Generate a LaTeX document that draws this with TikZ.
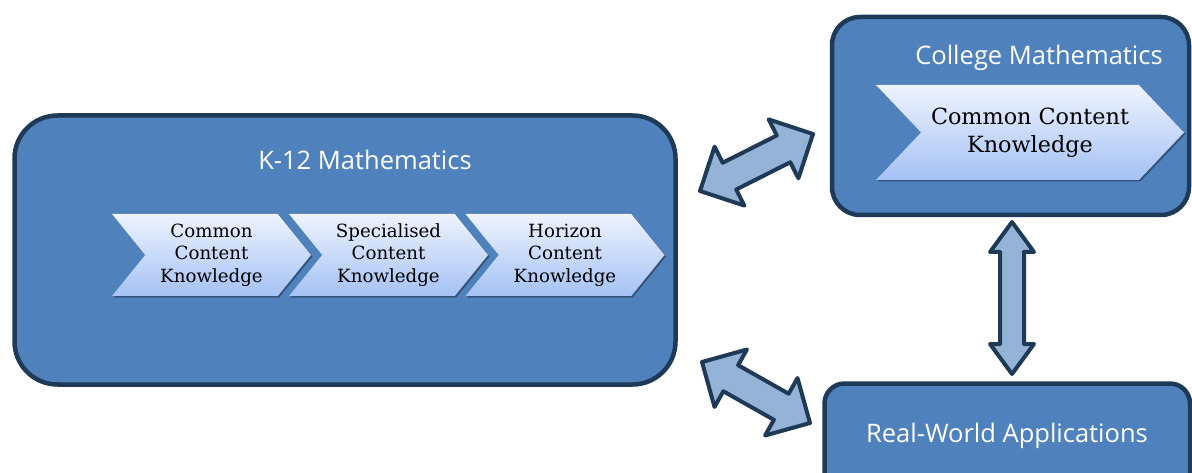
\documentclass[tikz,border=0pt]{standalone}
\usepackage{fontspec}
\usetikzlibrary{calc,shapes.symbols,shadows}
\newfontfamily\titlefont{Open Sans}
\newfontfamily\chevfont{DejaVu Serif}
\definecolor{boxblue}{HTML}{4F81BD}
\definecolor{navy}{HTML}{1F3A57}
\definecolor{arrowblue}{HTML}{95B3D7}
\definecolor{chevtop}{HTML}{EEF3FE}
\definecolor{chevbot}{HTML}{A4C2F4}

\tikzset{
  areabox/.style={draw=navy, fill=boxblue, line width=4.5pt, rounded corners=#1, inner sep=0pt},
  boxtitle/.style={text=white, font=\titlefont\fontsize{25.5}{30}\selectfont, inner sep=0pt},
  chevron/.style={shape=signal, signal from=west, signal to=east, top color=chevtop,
    bottom color=chevbot, inner sep=0pt, align=center, text=black,
    drop shadow={shadow xshift=1.5pt, shadow yshift=-1.5pt, opacity=0.35, fill=black}},
  smallchev/.style={chevron, minimum width=199pt, minimum height=82pt, signal pointer angle=102,
    font=\chevfont\fontsize{18.2}{22.5}\selectfont},
  blockarrow/.style={draw=navy, fill=arrowblue, line width=4pt, line join=round}
}

% double-headed block arrow: from, to, shaft half width, head half width, head length
\newcommand\dblblockarrow[5]{%
  \draw[blockarrow] (#1)
    -- ($(#1)!#5!(#2)!#4!90:(#2)$)
    -- ($(#1)!#5!(#2)!#3!90:(#2)$)
    -- ($(#2)!#5!(#1)!#3!-90:(#1)$)
    -- ($(#2)!#5!(#1)!#4!-90:(#1)$)
    -- (#2)
    -- ($(#2)!#5!(#1)!#4!90:(#1)$)
    -- ($(#2)!#5!(#1)!#3!90:(#1)$)
    -- ($(#1)!#5!(#2)!#3!-90:(#2)$)
    -- ($(#1)!#5!(#2)!#4!-90:(#2)$)
    -- cycle;}

\begin{document}
\begin{tikzpicture}[x=1pt,y=-1pt]
  \useasboundingbox (0,0) rectangle (1192,473);
  \clip (0,0) rectangle (1192,473);

  % area boxes
  \node[areabox=43pt, minimum width=661pt, minimum height=269pt] (k12) at (345,250) {};
  \node[areabox=28pt, minimum width=357pt, minimum height=198pt] (college) at (1010.5,116) {};
  \node[areabox=20pt, minimum width=365.5pt, minimum height=116.5pt] (real) at (1007.25,441.75) {};

  % titles
  \node[boxtitle] (k12title) at (365,160) {K-12 Mathematics};
  \node[boxtitle] (coltitle) at (1039,58) {College Mathematics};
  \node[boxtitle] (realtitle) at (1007,436) {Real-World Applications};

  % knowledge chevrons
  \node[smallchev] (ck) at (211.5,255) {Common\\Content\\Knowledge};
  \node[smallchev] (sk) at (388.5,255) {Specialised\\Content\\Knowledge};
  \node[smallchev] (hk) at (565,255) {Horizon\\Content\\Knowledge};
  \node[chevron, minimum width=308pt, minimum height=95pt, signal pointer angle=93,
        font=\chevfont\fontsize{22.3}{28}\selectfont] (cck) at (1030,132.5)
        {Common Content\\Knowledge};

  % arrow ends
  \coordinate (a1) at (700,191);
  \coordinate (b1) at (813,134);
  \coordinate (a2) at (702,362);
  \coordinate (b2) at (810,423);
  \coordinate (a3) at (1012,222);
  \coordinate (b3) at (1012,374);

  \dblblockarrow{a1}{b1}{15pt}{33pt}{33pt}
  \dblblockarrow{a2}{b2}{15pt}{33pt}{33pt}
  \dblblockarrow{a3}{b3}{12pt}{22pt}{30pt}
\end{tikzpicture}
\end{document}
